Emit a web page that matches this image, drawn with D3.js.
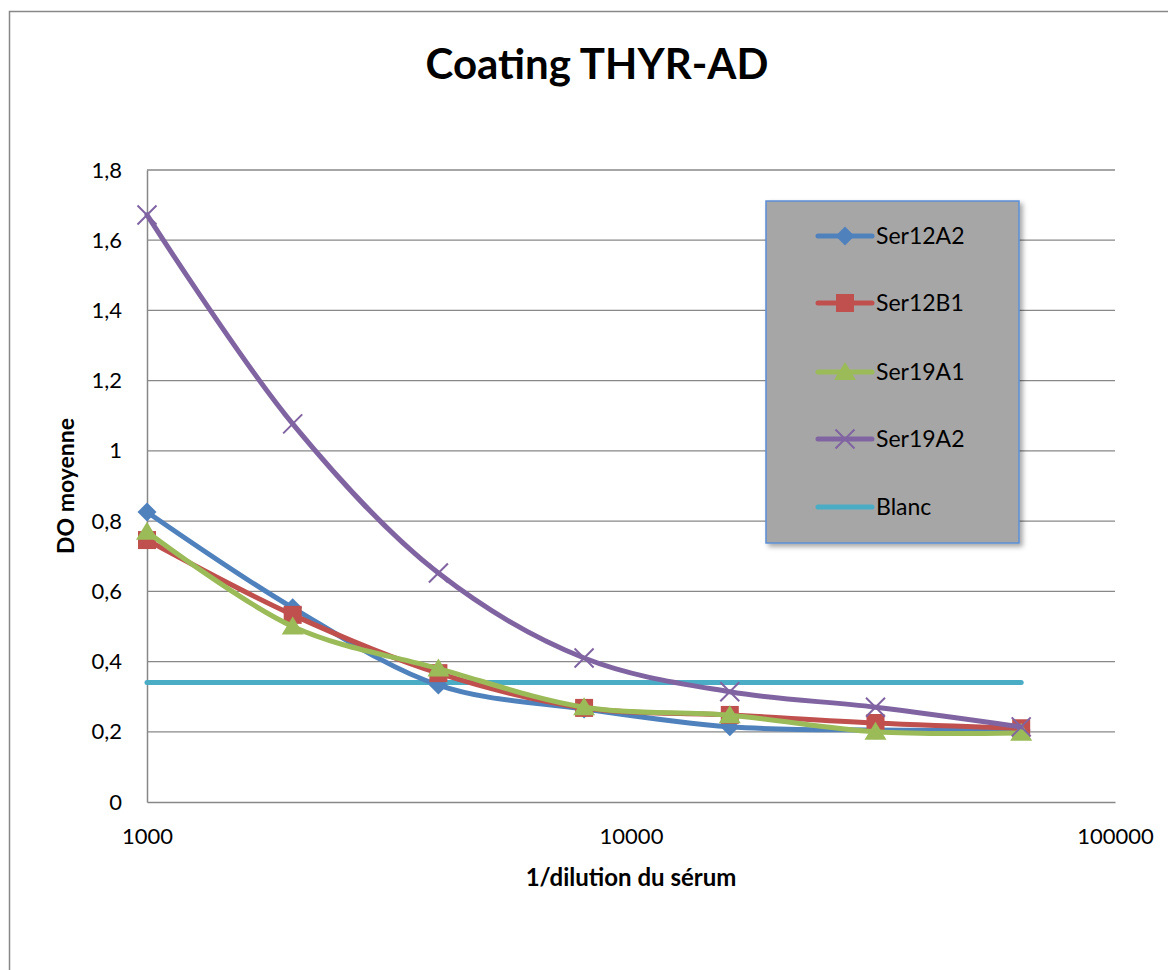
<!DOCTYPE html>
<html>
<head>
<meta charset="utf-8">
<script src="https://cdn.jsdelivr.net/npm/d3@7"></script>
<style>
  html, body { margin: 0; padding: 0; background: #fff; }
  svg { display: block; font-family: Lato, "Open Sans", sans-serif; }
</style>
</head>
<body>
<svg id="chart" width="1168" height="970"></svg>
<script>
// Reciprocal serum dilutions (x) and mean optical density per serum (y)
const dilutions = [1000, 2000, 4000, 8000, 16000, 32000, 64000];
const ser12A2 = [0.826, 0.553, 0.333, 0.265, 0.214, 0.205, 0.205];
const ser12B1 = [0.746, 0.533, 0.367, 0.268, 0.248, 0.225, 0.21];
const ser19A1 = [0.77, 0.50, 0.38, 0.27, 0.247, 0.20, 0.197];
const ser19A2 = [1.672, 1.077, 0.652, 0.41, 0.314, 0.27, 0.214];
const blanc   = [0.34, 0.34, 0.34, 0.34, 0.34, 0.34, 0.34];

const seriesNames = ["Ser12A2", "Ser12B1", "Ser19A1", "Ser19A2", "Blanc"];
const seriesColors = ["#4F81BD", "#C0504D", "#9BBB59", "#8064A2", "#4BACC6"];
const seriesMarkers = ["diamond", "square", "triangle", "cross", "none"];
const xTicks = [1000, 10000, 100000];
const yTicks = [0, 0.2, 0.4, 0.6, 0.8, 1, 1.2, 1.4, 1.6, 1.8];

const seriesValues = [ser12A2, ser12B1, ser19A1, ser19A2, blanc];

const svg = d3.select("#chart");
const plot = { left: 147, right: 1115, top: 170, bottom: 802 };

// Outer chart frame
svg.append("rect")
  .attr("x", 9.5).attr("y", 11.5)
  .attr("width", 1200).attr("height", 1000)
  .attr("fill", "#fff").attr("stroke", "#888").attr("stroke-width", 1.5);

const x = d3.scaleLog().domain([1000, 100000]).range([plot.left, plot.right]);
const y = d3.scaleLinear().domain([0, 1.8]).range([plot.bottom, plot.top]);

// Horizontal gridlines
svg.append("g")
  .selectAll("line")
  .data(yTicks.filter(d => d > 0))
  .join("line")
  .attr("x1", plot.left).attr("x2", plot.right)
  .attr("y1", d => y(d)).attr("y2", d => y(d))
  .attr("stroke", "#888").attr("stroke-width", 1.3);

// Axes
const yAxis = svg.append("g")
  .attr("transform", `translate(${plot.left},0)`)
  .call(d3.axisLeft(y).tickValues(yTicks).tickSize(0).tickPadding(25)
    .tickFormat(d => String(d).replace(".", ",")));
const xAxis = svg.append("g")
  .attr("transform", `translate(0,${plot.bottom})`)
  .call(d3.axisBottom(x).tickValues(xTicks).tickSize(0).tickPadding(26)
    .tickFormat(d3.format("d")));
[yAxis, xAxis].forEach(a => {
  a.select(".domain").attr("stroke", "#888").attr("stroke-width", 1.5);
  a.selectAll("text").attr("font-size", 22).attr("fill", "#000")
    .attr("font-family", "Lato, sans-serif");
});

// Titles
svg.append("text")
  .attr("x", 597).attr("y", 79)
  .attr("text-anchor", "middle")
  .attr("font-size", 42).attr("font-weight", "bold")
  .text("Coating THYR-AD");
svg.append("text")
  .attr("x", 631).attr("y", 886)
  .attr("text-anchor", "middle")
  .attr("font-size", 24).attr("font-weight", "bold")
  .text("1/dilution du sérum");
svg.append("text")
  .attr("transform", "translate(74,486) rotate(-90)")
  .attr("text-anchor", "middle")
  .attr("font-size", 23).attr("font-weight", "bold")
  .text("DO moyenne");

// Marker drawing
function drawMarker(g, type, color) {
  if (type === "diamond") {
    const s = 9.5;
    g.append("path").attr("d", `M0,${-s}L${s},0L0,${s}L${-s},0Z`).attr("fill", color);
  } else if (type === "square") {
    const s = 9;
    g.append("rect").attr("x", -s).attr("y", -s).attr("width", 2 * s).attr("height", 2 * s)
      .attr("fill", color);
  } else if (type === "triangle") {
    g.append("path").attr("d", "M0,-10L11,8L-11,8Z").attr("fill", color);
  } else if (type === "cross") {
    const s = 9.5;
    g.append("path").attr("d", `M${-s},${-s}L${s},${s}M${-s},${s}L${s},${-s}`)
      .attr("stroke", color).attr("stroke-width", 2).attr("fill", "none");
  }
}

const line = d3.line()
  .x(d => x(d[0])).y(d => y(d[1]))
  .curve(d3.curveCatmullRom.alpha(0.5));

// Series: Blanc first so the serum curves are drawn over it
const drawOrder = [4, 0, 1, 2, 3];
drawOrder.forEach(i => {
  const pts = dilutions.map((d, k) => [d, seriesValues[i][k]]);
  const g = svg.append("g");
  g.append("path")
    .attr("d", line(pts))
    .attr("fill", "none")
    .attr("stroke", seriesColors[i])
    .attr("stroke-width", 5)
    .attr("stroke-linecap", "round")
    .attr("stroke-linejoin", "round");
  if (seriesMarkers[i] !== "none") {
    pts.forEach(p => {
      const m = g.append("g").attr("transform", `translate(${x(p[0])},${y(p[1])})`);
      drawMarker(m, seriesMarkers[i], seriesColors[i]);
    });
  }
});

// Legend
const defs = svg.append("defs");
const f = defs.append("filter").attr("id", "shadow").attr("x", "-10%").attr("y", "-10%")
  .attr("width", "130%").attr("height", "130%");
f.append("feDropShadow").attr("dx", 3).attr("dy", 3).attr("stdDeviation", 2.5)
  .attr("flood-color", "#000").attr("flood-opacity", 0.35);

const legend = svg.append("g").attr("transform", "translate(766,201)");
legend.append("rect")
  .attr("width", 253).attr("height", 342)
  .attr("fill", "#A6A6A6")
  .attr("stroke", "#5B8FD6").attr("stroke-width", 1.5)
  .attr("filter", "url(#shadow)");
const rowY = [35, 102, 171, 238, 306];
seriesNames.forEach((name, i) => {
  const r = legend.append("g").attr("transform", `translate(0,${rowY[i]})`);
  r.append("line").attr("x1", 52).attr("x2", 106).attr("y1", 0).attr("y2", 0)
    .attr("stroke", seriesColors[i]).attr("stroke-width", 5).attr("stroke-linecap", "round");
  if (seriesMarkers[i] !== "none") {
    const m = r.append("g").attr("transform", "translate(79,0)");
    drawMarker(m, seriesMarkers[i], seriesColors[i]);
  }
  r.append("text").attr("x", 110).attr("y", 8)
    .attr("font-size", 23).attr("fill", "#000")
    .text(name);
});
</script>
</body>
</html>
